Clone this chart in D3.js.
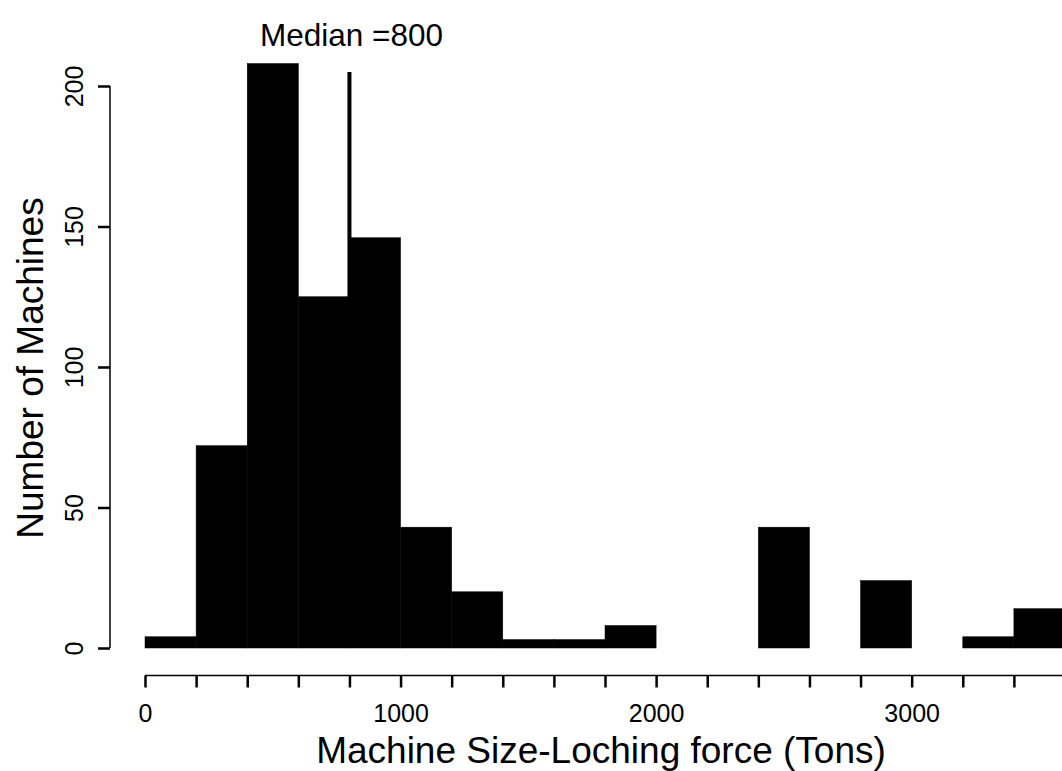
<!DOCTYPE html>
<html lang="en">
<head>
  <meta charset="UTF-8" />
  <title>Machine size histogram</title>
  <style>
    html, body {
      margin: 0; padding: 0;
      background: #fff;
      overflow: hidden;
    }
    svg { display: block; }
    text { font-family: "Liberation Sans", Arial, sans-serif; fill: #000; }
    .tick-label { font-size: 25px; }
    .title { font-size: 37px; }
  </style>
  <script src="https://d3js.org/d3.v7.min.js"></script>
</head>
<body>
  <svg id="chart" width="1062" height="771"></svg>
  <script>
    // histogram bins (tons), width 200
    const binStarts = [0, 200, 400, 600, 800, 1000, 1200, 1400, 1600, 1800,
                       2000, 2200, 2400, 2600, 2800, 3000, 3200, 3400];
    const counts = [4, 72, 208, 125, 146, 43, 20, 3, 3, 8,
                    0, 0, 43, 0, 24, 0, 4, 14];
    const binWidth = 200;
    const median = 800;
    const medianTop = 205;

    const xTicks = d3.range(0, 3601, 200);
    const xLabels = [0, 1000, 2000, 3000];
    const yTicks = [0, 50, 100, 150, 200];

    const svg = d3.select("#chart");
    const x = d3.scaleLinear().domain([0, 3600]).range([145, 1065]);
    const y = d3.scaleLinear().domain([0, 200]).range([648, 86]);

    // bars
    svg.append("g")
      .selectAll("rect")
      .data(binStarts.map((s, i) => ({ s, n: counts[i] })).filter(d => d.n > 0))
      .join("rect")
      .attr("x", d => x(d.s))
      .attr("width", d => x(d.s + binWidth) - x(d.s))
      .attr("y", d => y(d.n))
      .attr("height", d => y(0) - y(d.n))
      .attr("fill", "#000")
      .attr("stroke", "#000")
      .attr("stroke-width", 0.5);

    // median line
    svg.append("line")
      .attr("x1", x(median)).attr("x2", x(median))
      .attr("y1", y(0)).attr("y2", y(medianTop))
      .attr("stroke", "#000")
      .attr("stroke-width", 4);

    svg.append("text")
      .attr("x", x(median) + 2)
      .attr("y", 46)
      .attr("text-anchor", "middle")
      .style("font-size", "31.5px")
      .text("Median =" + median);

    // x axis
    const xAxis = svg.append("g")
      .attr("transform", "translate(0,675.5)")
      .call(d3.axisBottom(x)
        .tickValues(xTicks)
        .tickSize(12)
        .tickFormat(d => xLabels.includes(d) ? d : ""));
    xAxis.select(".domain").attr("stroke-width", 1.5).attr("d", `M${x(0)},0H1062`);
    xAxis.selectAll(".tick line").attr("stroke-width", 2.5);
    xAxis.selectAll(".tick text")
      .attr("class", "tick-label")
      .attr("y", 0)
      .attr("dy", 0)
      .attr("transform", "translate(0,46)")
      .attr("font-family", null)
      .attr("font-size", null);

    // y axis
    const yAxis = svg.append("g")
      .attr("transform", "translate(110,0)")
      .call(d3.axisLeft(y).tickValues(yTicks).tickSize(12));
    yAxis.select(".domain").attr("stroke-width", 1.5).attr("d", `M0,${y(0)}V${y(200)}`);
    yAxis.selectAll(".tick line").attr("stroke-width", 2.5);
    yAxis.selectAll(".tick text")
      .attr("class", "tick-label")
      .attr("x", 0)
      .attr("dy", 0)
      .attr("text-anchor", "middle")
      .attr("transform", "translate(-27,0) rotate(-90)")
      .attr("font-family", null)
      .attr("font-size", null);

    // titles
    svg.append("text")
      .attr("class", "title")
      .attr("x", 601)
      .attr("y", 763)
      .attr("text-anchor", "middle")
      .text("Machine Size-Loching force (Tons)");

    svg.append("text")
      .attr("class", "title")
      .attr("transform", "translate(43,368) rotate(-90)")
      .attr("text-anchor", "middle")
      .text("Number of Machines");
  </script>
</body>
</html>
